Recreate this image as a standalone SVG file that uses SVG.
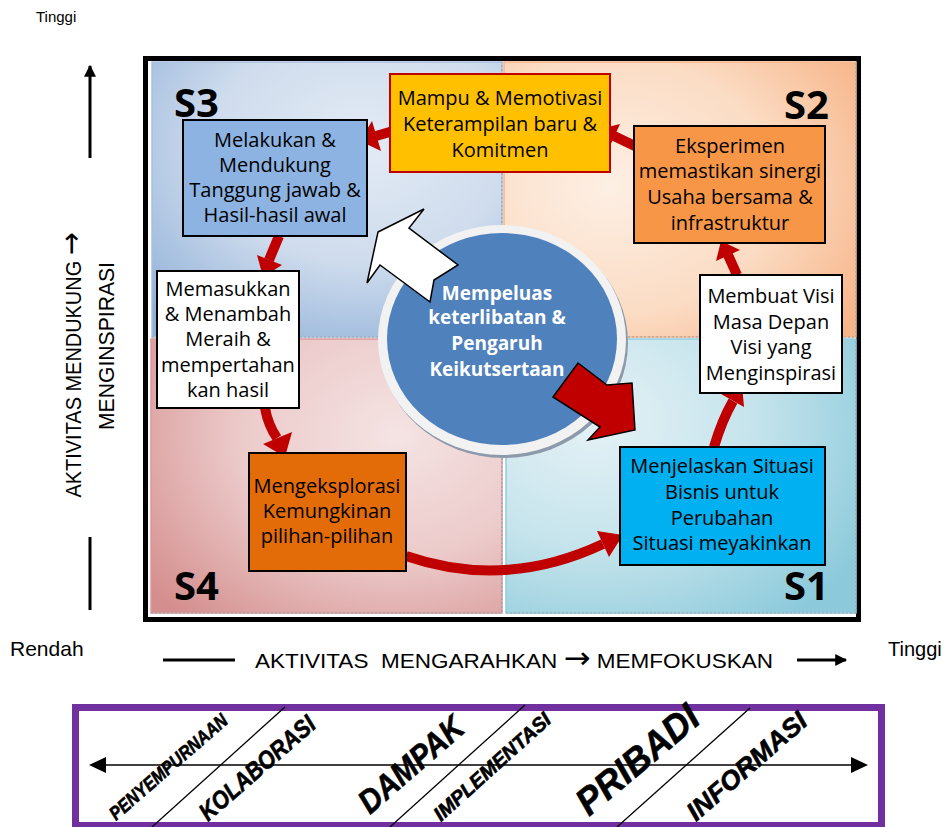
<svg xmlns="http://www.w3.org/2000/svg" width="951" height="827" viewBox="0 0 951 827">
  <defs>
    <radialGradient id="gS3" cx="0.6" cy="0.3" r="0.85">
      <stop offset="0" stop-color="#e3ebf5"/>
      <stop offset="0.5" stop-color="#cfdced"/>
      <stop offset="1" stop-color="#8fb0d8"/>
    </radialGradient>
    <radialGradient id="gS2" cx="0.3" cy="0.45" r="0.85">
      <stop offset="0" stop-color="#fdefe4"/>
      <stop offset="0.55" stop-color="#fbdcc4"/>
      <stop offset="1" stop-color="#f7b488"/>
    </radialGradient>
    <radialGradient id="gS4" cx="0.7" cy="0.35" r="0.9">
      <stop offset="0" stop-color="#f5e3e3"/>
      <stop offset="0.5" stop-color="#eccaca"/>
      <stop offset="1" stop-color="#d48e8d"/>
    </radialGradient>
    <radialGradient id="gS1" cx="0.25" cy="0.3" r="0.9">
      <stop offset="0" stop-color="#e5f2f6"/>
      <stop offset="0.5" stop-color="#c6e4ec"/>
      <stop offset="1" stop-color="#8ccadb"/>
    </radialGradient>
    <marker id="axisHead" viewBox="0 0 10 10" refX="9" refY="5" markerWidth="4" markerHeight="4" orient="auto">
      <path d="M0,0 L10,5 L0,10 z" fill="#000"/>
    </marker>
  </defs>
  <style>
    .box { stroke: #000; stroke-width: 2; }
    .lbl { font-family: "Open Sans", "Liberation Sans", sans-serif; font-size: 20px; fill: #000; text-anchor: middle; }
    .quad { font-family: "Open Sans", "Liberation Sans", sans-serif; font-size: 40px; font-weight: bold; fill: #000; }
    .ctr { font-family: "Open Sans", "Liberation Sans", sans-serif; font-size: 19px; font-weight: bold; fill: #fff; text-anchor: middle; }
    .axis { font-family: "Liberation Sans", "Open Sans", sans-serif; fill: #000; }
    .arr { font-family: "DejaVu Sans", sans-serif; font-size: 30px; }
    .flow { fill: none; stroke: #c00000; stroke-width: 10; }
    .head { fill: #c00000; }
    .scale { font-family: "Liberation Sans", Arial, sans-serif; font-weight: bold; font-style: italic; fill: #000; stroke: #000; stroke-width: 0.6; }
    .edge { fill: none; stroke: #9aa5b1; stroke-width: 1.2; stroke-dasharray: 2 2; }
  </style>

  <!-- grid frame and quadrants -->
  <g id="grid">
    <rect x="145.5" y="58.5" width="713" height="561" fill="#fff" stroke="#000" stroke-width="5"/>
    <rect x="152" y="62" width="350" height="275" fill="url(#gS3)" stroke="#a9c0de" stroke-width="1.5"/>
    <rect x="504" y="62" width="352" height="275" fill="url(#gS2)" stroke="#f5b58a" stroke-width="1.5"/>
    <rect x="151" y="339" width="351" height="274" fill="url(#gS4)" stroke="#d99a99" stroke-width="1.5"/>
    <rect x="506" y="339" width="350" height="274" fill="url(#gS1)" stroke="#93cbdb" stroke-width="1.5"/>
    <path class="edge" d="M152,337 H502 V62 M504,337 H856 V62 M151,613 H502 V339 M506,613 H856 V339"/>
    <text class="quad" x="174" y="117">S3</text>
    <text class="quad" x="784" y="119">S2</text>
    <text class="quad" x="174" y="600">S4</text>
    <text class="quad" x="784" y="600">S1</text>
  </g>

  <!-- central hub with the two block arrows -->
  <g id="hub">
    <ellipse cx="504" cy="343" rx="124" ry="115" fill="#8c9aab"/>
    <ellipse cx="502" cy="340" rx="124" ry="115" fill="#f2f2f2"/>
    <ellipse cx="502" cy="339" rx="115" ry="106" fill="#4f81bd"/>
    <polygon points="378,232 424,209 409,228 458,265 434,280 430,302 380,265 367,283" fill="#fff" stroke="#000" stroke-width="1.5"/>
    <text class="ctr" x="497" y="300">Mempeluas</text>
    <text class="ctr" x="497" y="324">keterlibatan &amp;</text>
    <text class="ctr" x="497" y="350">Pengaruh</text>
    <text class="ctr" x="497" y="376">Keikutsertaan</text>
    <polygon points="553,397 578,363 607,385 632,383 635,430 588,440 600,427" fill="#c00000" stroke="#000" stroke-width="1.5"/>
  </g>

  <!-- cycle connectors -->
  <g id="connectors">
    <path class="flow" d="M637,147 L614,136"/>
    <polygon class="head" points="600,129 620,124 609,148"/>
    <path class="flow" d="M393,131 L376,136"/>
    <polygon class="head" points="360,141 372,121 381,151"/>
    <path class="flow" d="M279,236 L269,260"/>
    <polygon class="head" points="263,277 257,255 282,265"/>
    <path class="flow" d="M265,408 Q268,425 277,438"/>
    <polygon class="head" points="285,457 263,444 292,432"/>
    <path class="flow" d="M406,556 Q505,590 603,544"/>
    <polygon class="head" points="623,535 609,557 597,531"/>
    <path class="flow" d="M714,447 Q722,420 733,401"/>
    <polygon class="head" points="742,385 744,407 721,394"/>
    <path class="flow" d="M737,275 L728,255"/>
    <polygon class="head" points="721,241 740,250 716,261"/>
  </g>

  <!-- stage boxes -->
  <g id="mampu">
    <rect x="390" y="74" width="220" height="98" fill="#ffc000" stroke="#c00000" stroke-width="2"/>
    <text class="lbl" x="500" y="105">Mampu &amp; Memotivasi</text>
    <text class="lbl" x="500" y="131">Keterampilan baru &amp;</text>
    <text class="lbl" x="500" y="157">Komitmen</text>
  </g>
  <g id="melakukan">
    <rect class="box" x="183" y="120" width="184" height="116" fill="#8db3e2"/>
    <text class="lbl" x="275" y="147">Melakukan &amp;</text>
    <text class="lbl" x="275" y="172">Mendukung</text>
    <text class="lbl" x="275" y="197">Tanggung jawab &amp;</text>
    <text class="lbl" x="275" y="222">Hasil-hasil awal</text>
  </g>
  <g id="eksperimen">
    <rect class="box" x="634" y="126" width="191" height="117" fill="#f79646"/>
    <text class="lbl" x="730" y="153">Eksperimen</text>
    <text class="lbl" x="730" y="178">memastikan sinergi</text>
    <text class="lbl" x="730" y="204">Usaha bersama &amp;</text>
    <text class="lbl" x="730" y="230">infrastruktur</text>
  </g>
  <g id="memasukkan">
    <rect class="box" x="157" y="271" width="142" height="137" fill="#fff"/>
    <text class="lbl" x="228" y="296">Memasukkan</text>
    <text class="lbl" x="228" y="321">&amp; Menambah</text>
    <text class="lbl" x="228" y="346">Meraih &amp;</text>
    <text class="lbl" x="228" y="372">mempertahan</text>
    <text class="lbl" x="228" y="397">kan hasil</text>
  </g>
  <g id="membuat-visi">
    <rect class="box" x="700" y="275" width="142" height="118" fill="#fff"/>
    <text class="lbl" x="771" y="303">Membuat Visi</text>
    <text class="lbl" x="771" y="329">Masa Depan</text>
    <text class="lbl" x="771" y="354">Visi yang</text>
    <text class="lbl" x="771" y="380">Menginspirasi</text>
  </g>
  <g id="mengeksplorasi">
    <rect class="box" x="249" y="453" width="157" height="118" fill="#e36c09"/>
    <text class="lbl" x="327" y="493">Mengeksplorasi</text>
    <text class="lbl" x="327" y="518">Kemungkinan</text>
    <text class="lbl" x="327" y="543">pilihan-pilihan</text>
  </g>
  <g id="menjelaskan">
    <rect class="box" x="620" y="447" width="205" height="118" fill="#00b0f0"/>
    <text class="lbl" x="722" y="473">Menjelaskan Situasi</text>
    <text class="lbl" x="722" y="499">Bisnis untuk</text>
    <text class="lbl" x="722" y="525">Perubahan</text>
    <text class="lbl" x="722" y="550">Situasi meyakinkan</text>
  </g>

  <!-- axes -->
  <g id="axes">
    <text class="axis" x="36" y="22" font-size="15">Tinggi</text>
    <line x1="90" y1="158" x2="90" y2="66" stroke="#000" stroke-width="3" marker-end="url(#axisHead)"/>
    <line x1="90" y1="537" x2="90" y2="610" stroke="#000" stroke-width="3"/>
    <text class="axis" font-size="22" text-anchor="middle" textLength="265" lengthAdjust="spacingAndGlyphs" transform="translate(81,365) rotate(-90)">AKTIVITAS MENDUKUNG <tspan class="arr">→</tspan></text>
    <text class="axis" font-size="22" text-anchor="middle" textLength="168" lengthAdjust="spacingAndGlyphs" transform="translate(114,346) rotate(-90)">MENGINSPIRASI</text>
    <text class="axis" x="10" y="656" font-size="21">Rendah</text>
    <line x1="163" y1="660" x2="235" y2="660" stroke="#000" stroke-width="3"/>
    <text class="axis" x="255" y="668" font-size="21" textLength="518" lengthAdjust="spacingAndGlyphs" xml:space="preserve">AKTIVITAS  MENGARAHKAN <tspan class="arr">→</tspan> MEMFOKUSKAN</text>
    <line x1="797" y1="660" x2="846" y2="660" stroke="#000" stroke-width="3" marker-end="url(#axisHead)"/>
    <text class="axis" x="888" y="656" font-size="20">Tinggi</text>
  </g>

  <!-- bottom scale panel -->
  <g id="scale">
    <rect x="75.5" y="707.5" width="806" height="118" fill="#fff" stroke="#7030a0" stroke-width="7"/>
    <line x1="104" y1="765" x2="853" y2="765" stroke="#000" stroke-width="1.5"/>
    <path d="M89,765 L106,757 L106,773 z M868,765 L851,757 L851,773 z" fill="#000"/>
    <g stroke="#000" stroke-width="1.3">
      <line x1="152" y1="827" x2="285" y2="707"/>
      <line x1="390" y1="827" x2="525" y2="705"/>
      <line x1="617" y1="827" x2="750" y2="708"/>
    </g>
    <text class="scale" font-size="19" textLength="150" lengthAdjust="spacingAndGlyphs" transform="translate(116,821) rotate(-41)">PENYEMPURNAAN</text>
    <text class="scale" font-size="25" textLength="145" lengthAdjust="spacingAndGlyphs" transform="translate(208,822) rotate(-41)">KOLABORASI</text>
    <text class="scale" font-size="33" textLength="128" lengthAdjust="spacingAndGlyphs" transform="translate(370,815) rotate(-41)">DAMPAK</text>
    <text class="scale" font-size="20" textLength="150" lengthAdjust="spacingAndGlyphs" transform="translate(441,822) rotate(-42)">IMPLEMENTASI</text>
    <text class="scale" font-size="38" textLength="148" lengthAdjust="spacingAndGlyphs" transform="translate(589,817) rotate(-40)">PRIBADI</text>
    <text class="scale" font-size="26" textLength="150" lengthAdjust="spacingAndGlyphs" transform="translate(696,822) rotate(-41)">INFORMASI</text>
  </g>
</svg>
